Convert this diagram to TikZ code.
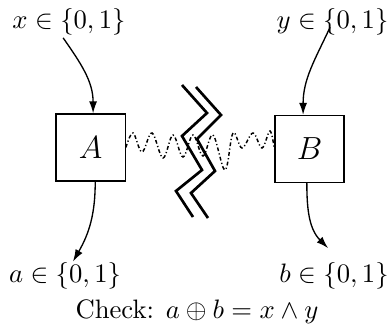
\documentclass[tikz,border=0pt]{standalone}
\usetikzlibrary{arrows.meta}
\begin{document}
\begin{tikzpicture}[x=0.375pt,y=-0.375pt,
  box/.style={draw,line width=0.5pt,minimum width=25.9pt,minimum height=25.1pt,inner sep=0pt,font=\fontsize{12.5}{15}\selectfont},
  lbl/.style={inner sep=0pt,anchor=base},
  arr/.style={-{Latex[length=4.5pt,width=3pt]},line width=0.5pt},
  wave/.style={line width=0.55pt,dash pattern=on 1.4pt off 0.9pt on 0.45pt off 0.9pt},
  bolt/.style={line width=1pt,line join=miter}]
\useasboundingbox (0,0) rectangle (391,335);
\node[box] (A) at (90.7,147.5) {$A$};
\node[box] (B) at (309.5,149) {$B$};
\node[lbl] (xl) at (69,28) {$x\in\{0,1\}$};
\node[lbl] (yl) at (332.5,28) {$y\in\{0,1\}$};
\node[lbl] (al) at (65,282) {$a\in\{0,1\}$};
\node[lbl] (bl) at (334,282) {$b\in\{0,1\}$};
\node[lbl] (chk) at (197,318) {Check: $a\oplus b = x\wedge y$};
% inputs
\draw[arr] ([xshift=-2.2pt,yshift=-1pt]xl.south) to[out=-55,in=90] ([xshift=0.9pt]A.north);
\draw[arr] ([xshift=-0.9pt,yshift=3pt]yl.south) to[out=-115,in=90] ([xshift=-2.4pt]B.north);
% outputs
\draw[arr] ([xshift=1.7pt]A.south) to[out=-90,in=60] ([xshift=3pt]al.north);
\draw[arr] ([xshift=-1pt]B.south) to[out=-90,in=135] ([xshift=-2.2pt,yshift=5pt]bl.north);
% wavy link
\draw[wave] plot[smooth,tension=0.6] coordinates {(A.east) (133,133) (142,152) (152,133) (163,158) (173,135) (183,157) (193,135) (203,156) (213,135) (225,170) (233,133) (242,148) (253,133) (262,148) (270,131) (B.west)};
% lightning bolt
\draw[bolt] (182,85) -- (207,113) -- (182,136) -- (202,170) -- (176,191) -- (193,217);
\draw[bolt] (196,87) -- (221,115) -- (197,139) -- (215,171) -- (191,193) -- (208,218);
\end{tikzpicture}
\end{document}
